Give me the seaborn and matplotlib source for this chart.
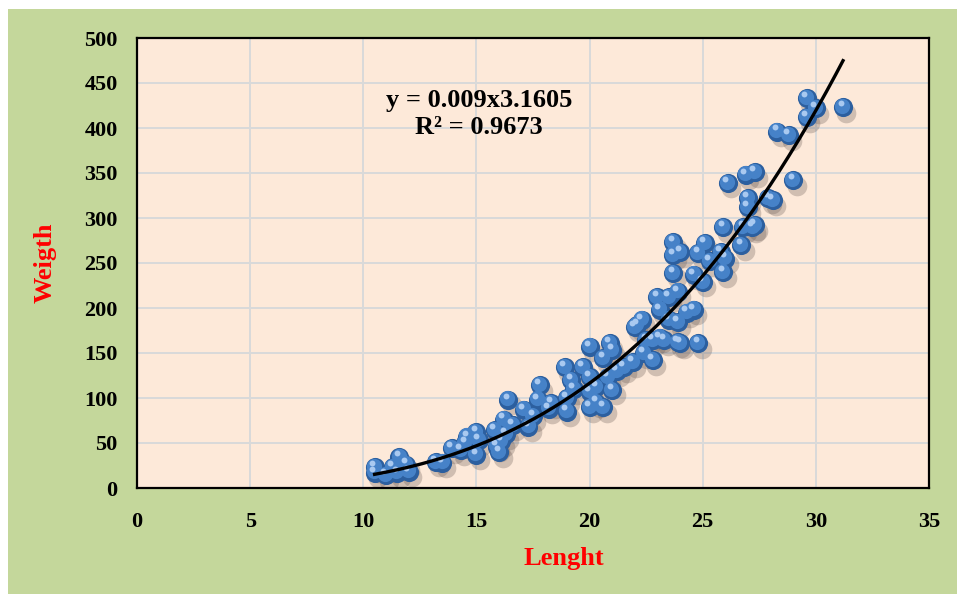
import numpy as np
import pandas as pd
import seaborn as sns
from matplotlib import pyplot as plt
from matplotlib import transforms
from matplotlib.patches import Rectangle

# fish length / weight readings
lenght = [10.5, 10.5, 11.0, 11.3, 11.6, 11.9, 12.0, 11.5, 13.2, 13.5,
          13.9, 14.3, 14.6, 15.0, 15.0, 14.5, 15.1, 15.8, 15.9, 16.0,
          16.2, 16.4, 16.6, 16.3, 16.1, 17.1, 17.3, 17.5, 17.7, 17.8,
          18.3, 18.2, 18.9, 19.0, 19.0, 19.2, 19.3, 19.7, 20.0, 20.0,
          20.0, 20.0, 20.3, 20.3, 20.6, 20.6, 20.8, 20.9, 21.0, 21.0,
          21.2, 21.5, 21.9, 22.1, 22.0, 22.3, 22.4, 22.5, 22.8, 22.8,
          23.1, 23.3, 23.0, 23.5, 23.1, 23.5, 23.9, 23.9, 23.9, 24.0,
          24.3, 24.6, 24.6, 24.8, 24.8, 25.0, 25.1, 23.7, 24.0, 23.7,
          23.7, 25.3, 25.9, 25.8, 26.0, 25.9, 26.1, 26.7, 26.8, 27.2,
          27.3, 26.9, 27.3, 27.0, 27.0, 27.9, 28.1, 29.0, 28.3, 28.8,
          29.6, 30.0, 29.6, 31.2]
weigth = [23, 17, 14, 23, 34, 26, 18, 17, 29, 28,
          44, 42, 57, 62, 37, 50, 53, 64, 46, 40,
          76, 98, 70, 60, 52, 87, 68, 80, 98, 114,
          94, 88, 134, 100, 85, 120, 110, 134, 123, 107,
          90, 157, 95, 112, 144, 90, 123, 161, 153, 109,
          130, 134, 140, 181, 179, 187, 150, 164, 142, 164,
          167, 164, 212, 212, 198, 187, 218, 184, 162, 161,
          195, 198, 237, 161, 261, 229, 272, 273, 262, 259,
          239, 252, 240, 262, 255, 290, 339, 270, 290, 290,
          292, 348, 351, 322, 312, 322, 320, 342, 396, 392,
          433, 422, 412, 423]

# power trendline reported on the chart
trend_a = 0.009
trend_b = 3.1605
trend_r2 = 0.9673

df = pd.DataFrame({'Lenght': lenght, 'Weigth': weigth})
xs = np.linspace(min(lenght), max(lenght), 200)
trend = pd.DataFrame({'Lenght': xs, 'Weigth': trend_a * xs ** trend_b})

plt.rcParams['font.family'] = ['Liberation Serif', 'DejaVu Serif']
plt.rcParams['font.weight'] = 'bold'

fig = plt.figure(figsize=(9.57, 5.94), dpi=100, facecolor='white')
fig.patches.append(Rectangle((8 / 957, 0), 1, 1 - 9 / 594, transform=fig.transFigure,
                             facecolor='#c4d79b', edgecolor='none', zorder=-10))
ax = fig.add_axes([137 / 957, 106 / 594, 792 / 957, 450 / 594])
ax.set_zorder(1)
ax.set_facecolor('#fde9d9')

# sphere-looking markers: shadow, body, shading, highlight
shadow = transforms.offset_copy(ax.transData, fig=fig, x=2.5, y=-4, units='points')
sns.scatterplot(data=df, x='Lenght', y='Weigth', ax=ax, s=200, color='#6b5b55',
                alpha=0.3, linewidth=0, transform=shadow, zorder=2, legend=False)
sns.scatterplot(data=df, x='Lenght', y='Weigth', ax=ax, s=190, color='#2c5f9f',
                linewidth=0, zorder=3, legend=False)
mid = transforms.offset_copy(ax.transData, fig=fig, x=-0.7, y=1.0, units='points')
sns.scatterplot(data=df, x='Lenght', y='Weigth', ax=ax, s=120, color='#4682c8',
                linewidth=0, transform=mid, zorder=4, legend=False)
hi = transforms.offset_copy(ax.transData, fig=fig, x=-1.8, y=3.0, units='points')
sns.scatterplot(data=df, x='Lenght', y='Weigth', ax=ax, s=18, color='#a9c9f0',
                linewidth=0, transform=hi, zorder=5, legend=False)

sns.lineplot(data=trend, x='Lenght', y='Weigth', ax=ax, color='black', linewidth=2.4,
             zorder=6)

ax.set_xlim(0, 35)
ax.set_ylim(0, 500)
ax.set_xticks(range(0, 36, 5))
ax.set_yticks(range(0, 501, 50))
ax.grid(True, color='#d9d9d9', linewidth=1.4)
ax.set_axisbelow(True)
for sp in ax.spines.values():
    sp.set_color('black')
    sp.set_linewidth(1.6)
ax.tick_params(axis='both', length=0, labelsize=16)
ax.tick_params(axis='x', pad=17)
ax.tick_params(axis='y', pad=14)
for lab in ax.get_xticklabels() + ax.get_yticklabels():
    lab.set_fontweight('bold')

ax.set_xlabel('Lenght', color='#ff0000', fontsize=19, fontweight='bold')
ax.set_ylabel('Weigth', color='#ff0000', fontsize=19, fontweight='bold')
ax.xaxis.set_label_coords(0.539, -0.131)
ax.yaxis.set_label_coords(-0.101, 0.5)

ax.text(15.1, 431, 'y = %sx%s' % (trend_a, trend_b), ha='center', va='center',
        fontsize=19, fontweight='bold', zorder=7)
ax.text(15.1, 400, 'R² = %s' % trend_r2, ha='center', va='center',
        fontsize=19, fontweight='bold', zorder=7)

fig.savefig('out.png', dpi=100, facecolor=fig.get_facecolor())
